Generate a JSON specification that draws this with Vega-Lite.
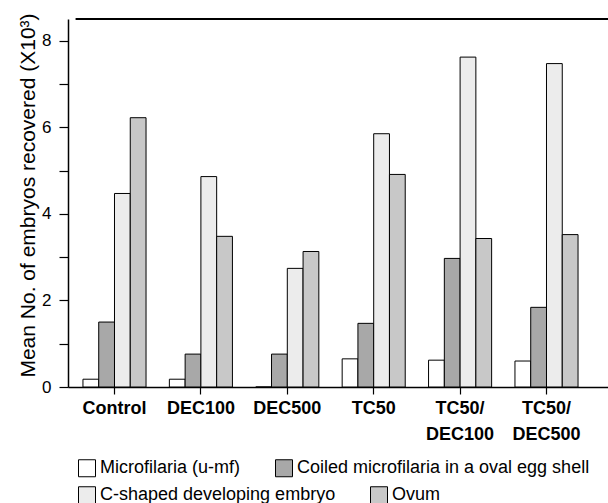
{
  "$schema": "https://vega.github.io/schema/vega-lite/v6.json",
  "width": 540,
  "height": 368,
  "autosize": {"type": "none"},
  "padding": {"left": 68, "top": 19, "right": 0, "bottom": 116},
  "background": "white",
  "config": {
    "view": {"stroke": null},
    "font": "Liberation Sans",
    "axis": {"domainColor": "black", "domainWidth": 1.5, "tickColor": "black", "tickWidth": 1.2, "labelColor": "black", "titleColor": "black", "grid": false}
  },
  "data": {
    "values": [
      {"group": "Control", "type": "Microfilaria (u-mf)", "value": 0.18},
      {"group": "Control", "type": "Coiled microfilaria in a oval egg shell", "value": 1.5},
      {"group": "Control", "type": "C-shaped developing embryo", "value": 4.47},
      {"group": "Control", "type": "Ovum", "value": 6.22},
      {"group": "DEC100", "type": "Microfilaria (u-mf)", "value": 0.18},
      {"group": "DEC100", "type": "Coiled microfilaria in a oval egg shell", "value": 0.76},
      {"group": "DEC100", "type": "C-shaped developing embryo", "value": 4.86},
      {"group": "DEC100", "type": "Ovum", "value": 3.48},
      {"group": "DEC500", "type": "Microfilaria (u-mf)", "value": 0},
      {"group": "DEC500", "type": "Coiled microfilaria in a oval egg shell", "value": 0.76},
      {"group": "DEC500", "type": "C-shaped developing embryo", "value": 2.74},
      {"group": "DEC500", "type": "Ovum", "value": 3.13},
      {"group": "TC50", "type": "Microfilaria (u-mf)", "value": 0.65},
      {"group": "TC50", "type": "Coiled microfilaria in a oval egg shell", "value": 1.47},
      {"group": "TC50", "type": "C-shaped developing embryo", "value": 5.85},
      {"group": "TC50", "type": "Ovum", "value": 4.91},
      {"group": "TC50/DEC100", "type": "Microfilaria (u-mf)", "value": 0.62},
      {"group": "TC50/DEC100", "type": "Coiled microfilaria in a oval egg shell", "value": 2.97},
      {"group": "TC50/DEC100", "type": "C-shaped developing embryo", "value": 7.62},
      {"group": "TC50/DEC100", "type": "Ovum", "value": 3.43},
      {"group": "TC50/DEC500", "type": "Microfilaria (u-mf)", "value": 0.6},
      {"group": "TC50/DEC500", "type": "Coiled microfilaria in a oval egg shell", "value": 1.84},
      {"group": "TC50/DEC500", "type": "C-shaped developing embryo", "value": 7.47},
      {"group": "TC50/DEC500", "type": "Ovum", "value": 3.52}
    ]
  },
  "encoding": {
    "x": {
      "field": "group", "type": "nominal",
      "sort": ["Control", "DEC100", "DEC500", "TC50", "TC50/DEC100", "TC50/DEC500"],
      "scale": {"paddingInner": 0.27, "paddingOuter": 0.26, "align": 0.333},
      "axis": {"title": null, "labelAngle": 0, "labelFontSize": 18, "labelFontWeight": "bold", "tickSize": 7, "labelPadding": 5, "labelLineHeight": 26,
        "labelExpr": "split(replace(datum.value, '/', '/|'), '|')"}
    },
    "xOffset": {
      "field": "type", "type": "nominal",
      "scale": {"domain": ["Microfilaria (u-mf)", "Coiled microfilaria in a oval egg shell", "C-shaped developing embryo", "Ovum"], "paddingInner": 0, "paddingOuter": 0}
    },
    "y": {
      "field": "value", "type": "quantitative",
      "scale": {"domain": [0, 8.5], "nice": false},
      "axis": {"title": "Mean No. of embryos recovered (X10³)", "titleFontSize": 21, "titleFontWeight": "normal", "titlePadding": 3, "titleY": 176,
        "values": [0, 1, 2, 3, 4, 5, 6, 7, 8], "labelExpr": "datum.value % 2 == 0 ? datum.label : ''",
        "labelFontSize": 17, "tickSize": 9, "labelPadding": 8}
    }
  },
  "layer": [
    {
      "transform": [{"filter": "datum.type == 'Microfilaria (u-mf)' || datum.type == 'Coiled microfilaria in a oval egg shell'"}],
      "mark": {"type": "bar", "stroke": "black", "strokeWidth": 1},
      "encoding": {
        "fill": {
          "field": "type", "type": "nominal",
          "scale": {"domain": ["Microfilaria (u-mf)", "Coiled microfilaria in a oval egg shell"], "range": ["#ffffff", "#a8a8a8"]},
          "legend": {"title": null, "orient": "none", "legendX": 10, "legendY": 440, "direction": "horizontal", "padding": 0,
            "labelFontSize": 18, "labelColor": "black", "labelOffset": 4, "columnPadding": 32, "labelLimit": 500,
            "symbolType": "square", "symbolSize": 289, "symbolStrokeColor": "black", "symbolStrokeWidth": 1}
        }
      }
    },
    {
      "transform": [{"filter": "datum.type == 'C-shaped developing embryo' || datum.type == 'Ovum'"}],
      "mark": {"type": "bar", "stroke": "black", "strokeWidth": 1},
      "encoding": {
        "color": {
          "field": "type", "type": "nominal",
          "scale": {"domain": ["C-shaped developing embryo", "Ovum"], "range": ["#ececec", "#c8c8c8"]},
          "legend": {"title": null, "orient": "none", "legendX": 10, "legendY": 467, "direction": "horizontal", "padding": 0,
            "labelFontSize": 18, "labelColor": "black", "labelOffset": 4, "columnPadding": 32, "labelLimit": 500,
            "symbolType": "square", "symbolSize": 289, "symbolStrokeColor": "black", "symbolStrokeWidth": 1}
        }
      }
    },
    {
      "mark": {"type": "rule", "stroke": "black", "strokeWidth": 1.5},
      "encoding": {"y": {"datum": 8.5}, "x": {"value": 0}, "x2": {"value": 540}}
    }
  ]
}
